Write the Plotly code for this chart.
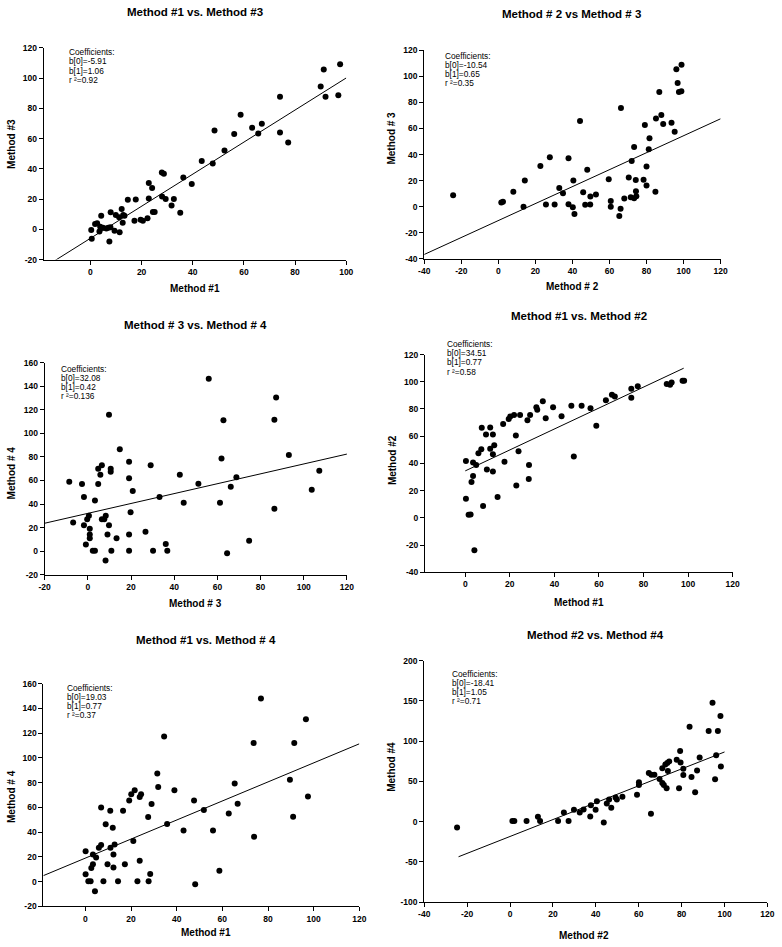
import plotly.graph_objects as go

W, H = 782, 947

# ---------------- data ----------------
# Panel 1: Method #1 vs Method #3
p1_x = [0.3, 0.5, 1.8, 2.6, 3.5, 3.8, 4.2, 4.9, 6.2, 7.0, 7.4, 7.9, 7.8, 9.4, 9.9, 11.2, 11.4, 12.2, 12.6, 12.8,
        13.3, 14.6, 17.2, 17.7, 19.6, 20.5, 22.3, 22.8, 22.8, 24.1, 24.4, 25.1, 27.9, 28.7, 28.0, 29.4, 31.7, 32.6, 35.1, 36.3,
        39.6, 43.5, 47.8, 48.5, 52.4, 56.2, 58.7, 63.2, 65.6, 67.0, 74.1, 74.1, 77.3, 90.0, 91.2, 91.9, 96.9, 97.6]
p1_y = [-0.4, -6.3, 3.5, 4.0, -1.5, 1.7, 9.0, 1.0, 0.5, 1.0, -8.0, 11.3, 1.3, -1.0, 9.5, 8.0, -2.0, 13.5, 4.3, 9.5,
        9.0, 19.6, 5.6, 19.8, 6.3, 5.6, 7.4, 30.6, 20.4, 27.4, 11.5, 11.5, 37.6, 36.7, 21.7, 20.0, 15.7, 20.0, 10.9, 34.3,
        30.0, 45.2, 43.5, 65.4, 52.2, 63.0, 75.8, 67.2, 63.4, 69.8, 87.6, 64.1, 57.4, 94.5, 105.6, 87.6, 88.7, 109.1]

# Panel 2: Method #2 vs Method #3
p2_x = [-24.4, 1.6, 2.5, 8.1, 13.6, 14.3, 22.7, 25.7, 27.8, 30.4, 32.9, 34.9, 37.9, 37.9, 40.2, 40.5, 41.1, 44.1, 45.8, 46.9,
        48.0, 49.6, 49.7, 52.7, 59.6, 60.7, 60.7, 65.3, 66.0, 66.2, 68.0, 70.4, 71.5, 72.0, 73.3, 73.3, 74.2, 74.3, 74.5, 78.4,
        79.1, 80.0, 80.0, 81.2, 81.6, 84.8, 85.1, 86.9, 88.0, 89.0, 93.5, 95.2, 96.1, 96.8, 97.5, 98.8, 98.9]
p2_y = [8.8, 3.3, 3.8, 11.6, 0.0, 20.2, 31.3, 1.8, 37.9, 1.8, 14.4, 10.4, 37.2, 2.0, -0.3, 20.2, -5.6, 65.7, 11.1, 1.5,
        28.3, 1.8, 7.8, 9.4, 21.2, 4.5, 0.0, -7.1, -1.5, 75.8, 6.3, 22.5, 7.3, 35.1, 6.6, 45.8, 20.5, 11.9, 8.1, 20.7,
        62.7, 30.8, 16.4, 44.2, 52.6, 11.6, 67.7, 88.0, 70.3, 63.4, 64.5, 57.6, 105.4, 94.8, 88.0, 88.5, 108.9]

# Panel 3: Method #3 vs Method #4
p3_x = [-8.6, -6.8, -2.7, -1.8, -1.8, -0.9, -0.3, 0.5, 0.9, 0.9, 0.9, 2.3, 3.3, 3.3, 4.8, 4.8, 5.8, 6.5, 6.5, 7.6,
        8.3, 8.2, 9.1, 9.8, 9.8, 10.6, 10.6, 10.9, 13.3, 14.8, 19.1, 19.1, 19.1, 19.1, 19.8, 20.8, 26.7, 29.1, 30.2, 33.2,
        36.1, 36.8, 42.6, 44.4, 51.2, 56.0, 87.2, 62.8, 86.4, 61.9, 93.1, 107.2, 68.8, 66.2, 103.7, 61.2, 86.4, 74.7, 64.5]
p3_y = [59.0, 24.4, 57.0, 46.0, 22.0, 5.6, 27.0, 30.0, 19.0, 14.0, 11.0, 0.3, 0.3, 43.0, 70.0, 57.0, 65.0, 73.0, 27.0, 27.0,
        30.0, -8.0, 14.0, 22.0, 116.0, 70.0, 67.5, 0.3, 11.0, 86.5, 76.0, 62.0, 14.0, 0.3, 33.0, 51.0, 16.5, 73.0, 0.3, 46.0,
        6.0, 0.3, 65.0, 41.0, 57.2, 146.6, 130.6, 111.3, 111.6, 78.8, 81.6, 68.4, 62.8, 54.7, 52.1, 41.0, 35.9, 8.7, -1.9]

# Panel 4: Method #1 vs Method #2
p4_x = [0.3, 0.3, 1.5, 2.4, 2.8, 3.5, 3.5, 4.1, 4.9, 5.9, 7.2, 7.4, 8.0, 9.3, 9.7, 11.2, 11.2, 12.4, 12.4, 12.4,
        13.0, 14.5, 17.0, 17.6, 19.5, 20.2, 21.9, 22.7, 22.9, 23.9, 24.6, 27.9, 28.5, 29.1, 28.6, 31.9, 32.3, 34.8, 36.1, 39.4,
        43.2, 47.6, 48.7, 52.2, 56.2, 58.8, 63.1, 65.8, 67.1, 74.5, 74.5, 77.4, 90.4, 91.9, 92.6, 97.5, 98.2]
p4_y = [41.7, 14.0, 2.2, 2.4, 26.4, 40.7, 30.8, -23.8, 38.8, 47.5, 50.4, 66.2, 8.7, 61.3, 35.6, 66.4, 50.7, 61.3, 46.8, 34.0,
        53.3, 15.3, 69.0, 41.2, 72.7, 74.4, 75.6, 60.6, 23.8, 49.0, 75.6, 71.8, 28.6, 75.6, 38.8, 81.2, 79.5, 85.6, 73.2, 81.2,
        74.7, 82.4, 45.1, 82.4, 80.5, 67.6, 86.5, 90.4, 89.2, 94.8, 88.2, 96.7, 98.4, 97.9, 99.4, 100.8, 100.8]

# Panel 5: Method #1 vs Method #4
p5_x = [0.1, 0.1, 1.3, 2.3, 3.3, 3.3, 2.6, 4.2, 4.7, 5.9, 6.9, 6.9, 7.9, 8.9, 9.7, 10.9, 11.0, 12.0, 12.3, 12.3,
        12.8, 14.3, 16.5, 17.3, 21.0, 19.2, 20.1, 21.6, 22.8, 23.8, 23.8, 24.4, 27.5, 27.7, 28.4, 29.0, 31.5, 31.9, 34.5, 35.8,
        39.0, 43.0, 47.6, 48.1, 51.9, 55.9, 58.7, 62.8, 65.4, 66.7, 73.7, 73.9, 76.9, 89.6, 91.5, 91.0, 96.6, 97.5]
p5_y = [24.5, 5.9, 0.3, 0.3, 22.0, 14.0, 11.0, -7.7, 19.5, 27.5, 29.6, 60.0, 0.3, 46.4, 14.0, 57.3, 27.5, 43.5, 22.0, 11.5,
        30.0, 0.3, 57.3, 14.0, 32.8, 65.6, 70.7, 73.9, 0.3, 16.8, 68.5, 70.7, 52.3, 0.3, 6.1, 62.7, 87.5, 76.5, 117.3, 46.7,
        73.9, 41.3, 65.6, -2.1, 57.9, 41.3, 8.8, 55.0, 79.4, 63.0, 112.2, 36.3, 148.0, 82.4, 112.2, 52.5, 131.4, 68.8]

# Panel 6: Method #2 vs Method #4
p6_x = [-24.7, 1.1, 2.0, 7.7, 13.0, 14.0, 22.4, 25.1, 27.3, 29.8, 32.5, 34.3, 37.4, 37.7, 39.9, 40.5, 43.7, 45.1, 46.2, 47.2,
        49.2, 49.8, 52.4, 59.2, 60.1, 60.1, 65.7, 64.7, 65.9, 67.3, 69.7, 71.0, 71.7, 73.0, 71.0, 72.4, 73.3, 73.6, 74.2, 77.7,
        79.3, 79.5, 78.8, 80.8, 80.8, 83.7, 84.6, 86.3, 87.2, 88.4, 92.6, 94.4, 95.6, 96.1, 96.9, 98.1, 98.3]
p6_y = [-7.4, 0.8, 0.8, 0.8, 6.2, 0.8, 0.8, 11.5, 0.8, 14.8, 11.5, 15.2, 6.5, 20.5, 14.8, 25.5, -1.2, 22.6, 27.5, 17.2,
        30.0, 27.5, 30.8, 33.3, 45.6, 48.9, 9.9, 60.4, 58.3, 58.3, 53.0, 48.0, 45.6, 41.5, 66.5, 71.0, 73.0, 62.8, 74.8, 76.8,
        87.8, 73.5, 41.5, 65.7, 57.9, 117.9, 55.4, 36.6, 63.7, 79.7, 112.5, 147.8, 52.6, 82.5, 112.5, 131.4, 68.6]

titles = ["Method #1 vs. Method #3", "Method # 2 vs Method # 3", "Method # 3 vs. Method # 4",
          "Method #1 vs. Method #2", "Method #1 vs. Method # 4", "Method #2 vs. Method #4"]
x_titles = ["Method #1", "Method # 2", "Method # 3", "Method #1", "Method #1", "Method #2"]
y_titles = ["Method #3", "Method # 3", "Method # 4", "Method #2", "Method # 4", "Method #4"]

b0 = ["-5.91", "-10.54", "32.08", "34.51", "19.03", "-18.41"]
b1 = ["1.06", "0.65", "0.42", "0.77", "0.77", "1.05"]
r2 = ["0.92", "0.35", "0.136", "0.58", "0.37", "0.71"]

# x extent of each fitted line
fit_x_start = [-18.0, -40.0, -20.0, 0.0, -18.4, -24.0]
fit_x_end = [100.0, 120.0, 120.0, 98.0, 120.0, 100.0]

x_ticks = [[0, 20, 40, 60, 80, 100],
           [-40, -20, 0, 20, 40, 60, 80, 100, 120],
           [-20, 0, 20, 40, 60, 80, 100, 120],
           [0, 20, 40, 60, 80, 100, 120],
           [0, 20, 40, 60, 80, 100, 120],
           [-40, -20, 0, 20, 40, 60, 80, 100, 120]]
y_ticks = [[-20, 0, 20, 40, 60, 80, 100, 120],
           [-40, -20, 0, 20, 40, 60, 80, 100, 120],
           [-20, 0, 20, 40, 60, 80, 100, 120, 140, 160],
           [-40, -20, 0, 20, 40, 60, 80, 100, 120],
           [-20, 0, 20, 40, 60, 80, 100, 120, 140, 160],
           [-100, -50, 0, 50, 100, 150, 200]]

xs = [p1_x, p2_x, p3_x, p4_x, p5_x, p6_x]
ys = [p1_y, p2_y, p3_y, p4_y, p5_y, p6_y]

# ---------------- layout geometry (pixels) ----------------
# left, right, top, bottom of each plot area; axis ranges
boxes = [(38.3, 346.0, 43.3, 257.3), (425.3, 726.7, 45.7, 256.7),
         (39.3, 346.7, 361.7, 575.7), (426.0, 739.0, 353.3, 573.3),
         (38.0, 359.3, 686.0, 911.0), (425.3, 774.3, 662.7, 906.7)]
xranges = [[-18.3, 100], [-40, 120], [-20, 120], [-18.1, 120], [-18.4, 120], [-40, 120]]
yranges = [[-20, 120], [-40, 120], [-20, 160], [-40, 120], [-20, 160], [-100, 200]]
title_pos = [(191.7, 7.0), (575.3, 9.0), (192.7, 323.3), (582.7, 314.0), (203.3, 641.7), (599.3, 636.7)]
xtitle_pos = [(192.7, 286.7), (576.0, 285.0), (192.7, 605.0), (582.7, 604.0), (203.3, 937.0), (587.7, 940.0)]
ytitle_pos = [(5.5, 140.0), (392.5, 134.0), (5.5, 473.0), (392.5, 460.0), (5.5, 800.0), (392.5, 770.0)]
coef_pos = [(61.7, 47.7, 9.4), (444.3, 51.7, 9.2), (54.3, 367.7, 9.2),
            (446.0, 342.3, 9.4), (60.0, 690.0, 9.2), (451.0, 676.0, 9.3)]

FONT = "Liberation Sans, Arial, Helvetica, sans-serif"


def px(x):
    return x / W


def py(y):
    return 1 - y / H


fig = go.Figure()
annotations = []
layout = dict(width=W, height=H, margin=dict(l=0, r=0, t=0, b=0, pad=0),
              paper_bgcolor="white", plot_bgcolor="white", showlegend=False,
              font=dict(family=FONT, color="black"))

for i in range(6):
    n = "" if i == 0 else str(i + 1)
    l, r, t, b = boxes[i]
    axis_common = dict(showline=True, linecolor="black", linewidth=1, ticks="outside",
                       ticklen=4, tickwidth=1, tickcolor="black", showgrid=False, zeroline=False,
                       tickmode="array",
                       tickfont=dict(family=FONT, size=8.5, color="black", weight="bold"),
                       fixedrange=True)
    layout["xaxis" + n] = dict(axis_common, domain=[px(l), px(r)], range=xranges[i],
                               anchor="y" + n, tickvals=x_ticks[i],
                               ticktext=[str(v) for v in x_ticks[i]])
    layout["yaxis" + n] = dict(axis_common, domain=[py(b), py(t)], range=yranges[i],
                               anchor="x" + n, tickvals=y_ticks[i],
                               ticktext=[str(v) for v in y_ticks[i]])

    fig.add_trace(go.Scatter(x=xs[i], y=ys[i], mode="markers", xaxis="x" + n, yaxis="y" + n,
                             marker=dict(color="black", size=6, line=dict(width=0)),
                             cliponaxis=False, hoverinfo="skip"))
    c0, c1 = float(b0[i]), float(b1[i])
    lx = [fit_x_start[i], fit_x_end[i]]
    fig.add_trace(go.Scatter(x=lx, y=[c0 + c1 * v for v in lx], mode="lines",
                             xaxis="x" + n, yaxis="y" + n,
                             line=dict(color="black", width=1), hoverinfo="skip"))

    tx, ty = title_pos[i]
    annotations.append(dict(text=titles[i], x=px(tx), y=py(ty), xref="paper", yref="paper",
                            xanchor="center", yanchor="middle", showarrow=False,
                            font=dict(family=FONT, size=11.5, color="black", weight="bold")))
    ax_, ay_ = xtitle_pos[i]
    annotations.append(dict(text=x_titles[i], x=px(ax_), y=py(ay_), xref="paper", yref="paper",
                            xanchor="center", yanchor="middle", showarrow=False,
                            font=dict(family=FONT, size=10, color="black", weight="bold")))
    yx, yy = ytitle_pos[i]
    annotations.append(dict(text=y_titles[i], x=px(yx), y=py(yy), xref="paper", yref="paper",
                            xanchor="center", yanchor="middle", showarrow=False, textangle=-90,
                            font=dict(family=FONT, size=10, color="black", weight="bold")))
    cx, cy, step = coef_pos[i]
    lines = ["Coefficients:", "b[0]=" + b0[i], "b[1]=" + b1[i], "r ²=" + r2[i]]
    for k, s in enumerate(lines):
        annotations.append(dict(text=s, x=px(cx), y=py(cy + k * step), xref="paper", yref="paper",
                                xanchor="left", yanchor="middle", showarrow=False,
                                font=dict(family=FONT, size=8.3, color="black")))

layout["annotations"] = annotations
fig.update_layout(**layout)
fig.write_html("out.html", config={"responsive": False, "displayModeBar": False},
               post_script="document.body.style.margin='0';document.body.style.padding='0';"
                           "document.documentElement.style.overflow='hidden';"
                           "document.body.style.overflow='hidden';")
